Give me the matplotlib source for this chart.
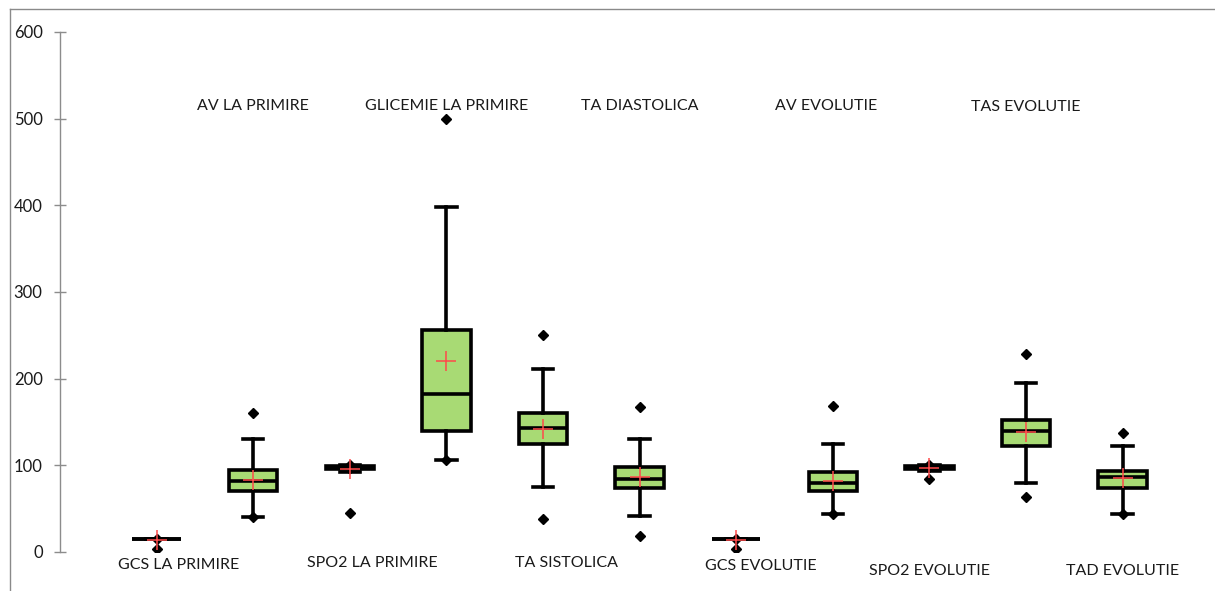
import matplotlib
matplotlib.use("Agg")
import matplotlib.pyplot as plt
from matplotlib.lines import Line2D

plt.rcParams['font.family'] = ['Lato', 'DejaVu Sans']

# ---- data ----
categories = ["GCS LA PRIMIRE", "AV LA PRIMIRE", "SPO2 LA PRIMIRE", "GLICEMIE LA PRIMIRE",
              "TA SISTOLICA", "TA DIASTOLICA", "GCS EVOLUTIE", "AV EVOLUTIE",
              "SPO2 EVOLUTIE", "TAS EVOLUTIE", "TAD EVOLUTIE"]
q1      = [15, 70, 96, 140, 125, 74, 15, 70, 96, 122, 74]
median  = [15, 82, 98, 182, 143, 84, 15, 80, 98, 140, 86]
q3      = [15, 95, 99, 256, 160, 98, 15, 92, 99, 152, 94]
whislo  = [15, 40, 92, 106, 75, 42, 15, 44, 94, 80, 44]
whishi  = [15, 130, 100, 398, 211, 130, 15, 125, 100, 195, 122]
minimum = [3, 40, 45, 106, 38, 19, 3, 44, 84, 64, 44]
maximum = [15, 160, 100, 500, 250, 167, 15, 168, 100, 229, 137]
mean    = [14, 83, 96, 220, 142, 86, 14, 82, 97, 138, 85]
yticks = [0, 100, 200, 300, 400, 500, 600]

# ---- label layout (category-unit offset, data-unit y) ----
label_dx = [0.23, 0, 0.23, 0, 0.24, 0, 0.25, -0.07, 0, 0, 0]
label_y  = [-15, 515, -13, 515, -13, 515, -16, 515, -22, 514, -22]

W, H = 1215, 591
fig = plt.figure(figsize=(W / 100, H / 100), dpi=100)
ax = fig.add_axes([60 / W, (H - 552) / H, (W - 60) / W, 520 / H])

positions = list(range(1, len(categories) + 1))
stats = []
for i in range(len(categories)):
    stats.append(dict(q1=q1[i], med=median[i], q3=q3[i], whislo=whislo[i],
                      whishi=whishi[i], fliers=[], label=categories[i]))

lw = 2.6
ax.bxp(stats, positions=positions, widths=0.5, patch_artist=True,
       showfliers=False, capwidths=0.21,
       boxprops=dict(facecolor="#A8DA74", edgecolor="black", linewidth=lw),
       medianprops=dict(color="black", linewidth=lw),
       whiskerprops=dict(color="black", linewidth=lw),
       capprops=dict(color="black", linewidth=lw),
       manage_ticks=False)

ax.plot(positions, minimum, linestyle="none", marker="D", color="black", markersize=5.5, zorder=4)
ax.plot(positions, maximum, linestyle="none", marker="D", color="black", markersize=5.5, zorder=4)
ax.plot(positions, mean, linestyle="none", marker="+", color="#FF4A4A", markersize=14,
        markeredgewidth=1.1, zorder=5)

for i, name in enumerate(categories):
    ax.text(positions[i] + label_dx[i], label_y[i], name, ha="center", va="center",
            fontsize=11.5, color="#1a1a1a", clip_on=False)

ax.set_xlim(0, (W - 60) / 96.6)
ax.set_ylim(0, 600)
ax.set_yticks(yticks)
ax.set_xticks([])
for s in ["top", "right", "bottom"]:
    ax.spines[s].set_visible(False)
ax.spines["left"].set_color("#8c8c8c")
ax.spines["left"].set_linewidth(1.0)
ax.tick_params(axis="y", direction="inout", length=9, width=1.0, color="#8c8c8c",
               labelsize=12, labelcolor="#1a1a1a", pad=8)

# outer chart frame (partially outside the image)
fig.add_artist(Line2D([10 / W, 1.0], [1 - 9 / H, 1 - 9 / H], transform=fig.transFigure,
                      color="#8a8a8a", linewidth=1.0))
fig.add_artist(Line2D([10 / W, 10 / W], [0, 1 - 9 / H], transform=fig.transFigure,
                      color="#8a8a8a", linewidth=1.0))

fig.savefig("out.png", dpi=100)
